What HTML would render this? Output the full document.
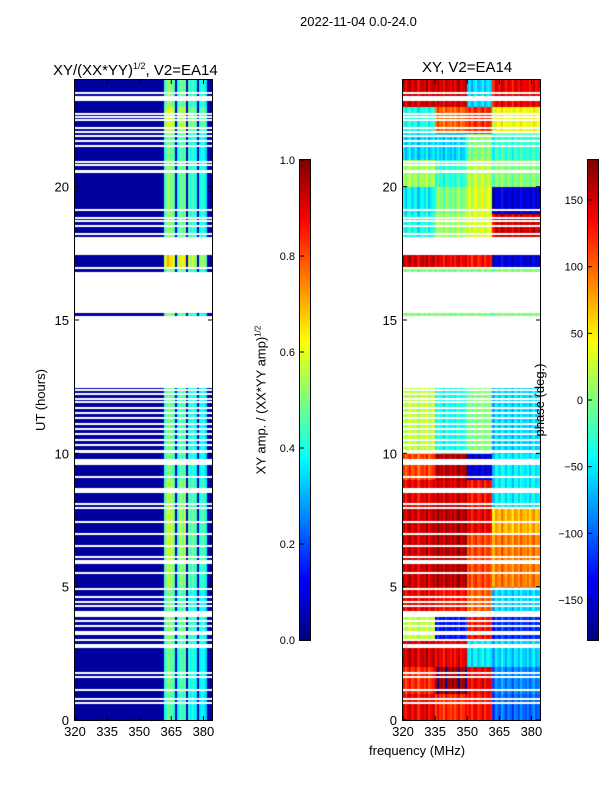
<!DOCTYPE html>
<html><head><meta charset="utf-8">
<style>
body{margin:0;background:#fff;width:600px;height:800px;overflow:hidden;position:relative;font-family:"Liberation Sans",sans-serif;color:#000}
.t{position:absolute;white-space:nowrap;font-size:12px;line-height:12px}
canvas{position:absolute}
.ax{position:absolute;border:1px solid #000;box-sizing:border-box}
</style></head><body>
<div class="t" style="left:300px;top:16px;font-size:13px">2022-11-04 0.0-24.0</div>
<div class="t" style="left:53px;top:58px;font-size:15px;line-height:16px">XY/(XX*YY)<sup style="font-size:9px">1/2</sup>, V2=EA14</div>
<div class="t" style="left:422px;top:60px;font-size:15px;line-height:16px">XY, V2=EA14</div>
<canvas id="c1" width="137" height="640" style="left:75px;top:80px"></canvas>
<canvas id="c2" width="137" height="640" style="left:403px;top:80px"></canvas>
<div class="ax" style="left:74px;top:79px;width:139px;height:642px"></div>
<div class="ax" style="left:402px;top:79px;width:139px;height:642px"></div>
<canvas id="cb1" width="10" height="480" style="left:300px;top:160px;outline:1px solid #000"></canvas>
<canvas id="cb2" width="10" height="480" style="left:588px;top:160px;outline:1px solid #000"></canvas>
<svg id="ov" width="600" height="800" style="position:absolute;left:0;top:0"></svg>
<div class="t" style="left:41px;top:400px;transform:translate(-50%,-50%) rotate(-90deg);font-size:13px">UT (hours)</div>
<div class="t" style="left:369px;top:745px;font-size:13px">frequency (MHz)</div>
<div class="t" style="left:260px;top:400px;transform:translate(-50%,-50%) rotate(-90deg);font-size:13px">XY amp. / (XX*YY amp)<sup style="font-size:8px">1/2</sup></div>
<div class="t" style="left:540px;top:400px;transform:translate(-50%,-50%) rotate(-90deg);font-size:13px">phase (deg.)</div>
<script>
// ---- data ----
const freqMin = 320, freqMax = 384, hourMin = 0, hourMax = 24;
const xTicks = [320, 335, 350, 365, 380];
const yTicks = [0, 5, 10, 15, 20];
const cb1Ticks = [0.0, 0.2, 0.4, 0.6, 0.8, 1.0];
const cb2Ticks = [-150, -100, -50, 0, 50, 100, 150];
// amplitude per 1-MHz channel (320..383)
const ampProfile = [0.03,0.03,0.03,0.03,0.03,0.03,0.03,0.03,0.03,0.03,0.03,0.03,0.03,0.03,0.03,0.03,
 0.03,0.03,0.03,0.03,0.03,0.03,0.03,0.03,0.03,0.03,0.03,0.03,0.03,0.03,0.03,0.03,
 0.03,0.03,0.03,0.03,0.03,0.03,0.03,0.03,0.04,0.05,0.45,0.55,0.5,0.5,0.45,0.06,
 0.4,0.5,0.45,0.5,0.06,0.45,0.4,0.45,0.4,0.06,0.38,0.42,0.4,0.35,0.05,0.04];
// brightness gain per hour
const ampGain = [0.9,0.95,0.95,1.0,0.95,1.05,1.1,1.1,1.05,0.95,0.95,0.95,0.95,1,1,1.0,1,1.3,1.0,1.0,1.0,0.95,1.15,1.0];
// phase (deg) per hour in 4 frequency bands
const phaseBand1 = [140,120,150,20,140,150,150,150,140,110,20,20,20,0,0,0,0,150,-40,-50,10,-60,-40,150];
const phaseBand2 = [120,170,140,-130,130,160,160,160,150,160,-40,-40,-40,0,0,0,0,140,10,0,-30,-60,100,150];
const phaseBand3 = [130,140,-50,130,100,110,110,140,130,-150,0,0,0,0,0,0,0,130,30,30,20,0,120,-60];
const phaseBand4 = [-100,-90,-60,-120,-60,90,90,70,-50,-50,-60,-60,-60,0,0,0,0,-150,150,-150,0,-30,40,140];
const bandEdges = [335, 350, 362];
const phaseChanOffset = [10,-15,5,20,-10,0,15,-20,5,10,-5,25,-15,0,10,-10,20,-5,5,-20,15,0,-10,10,
 -15,5,20,-10,0,15,-5,10,-20,5,15,-10,0,20,-15,5,10,-5,-20,15,0,-10,25,5,-15,10,0,-20,15,5,-10,20,0,-5,10,-15,5,20,-10,0];
// time gaps (no data), hours
const gaps = [[23.5,23.55],[23.2,23.4],[22.7,22.75],[22.6,22.65],[22.5,22.55],[22.0,22.07],[22.15,22.22],[21.9,21.95],
 [21.7,21.75],[21.5,21.55],[20.9,20.95],[20.8,20.85],[20.5,20.62],[19.1,19.15],[18.8,18.85],[18.7,18.75],[18.5,18.55],
 [18.2,18.25],[17.45,18.1],[16.9,17.0],[12.45,15.15],[15.25,16.8],[12.4,12.43],[12.25,12.28],[12.05,12.08],
 [11.9,11.95],[11.7,11.75],[11.5,11.55],[11.3,11.35],[11.1,11.15],[10.9,10.95],[10.7,10.75],[10.5,10.55],[10.3,10.35],
 [10.0,10.12],[9.55,9.8],[9.1,9.15],[8.5,8.7],[8.1,8.15],[7.95,8.0],[7.4,7.45],[6.95,7.0],[6.5,6.55],[6.1,6.15],
 [5.95,6.0],[5.88,5.92],[5.5,5.55],[4.9,4.95],[4.6,4.65],[4.4,4.45],[4.3,4.33],[3.85,4.1],[3.7,3.75],[3.5,3.55],
 [3.2,3.35],[3.0,3.05],[2.7,2.85],[1.75,1.8],[1.6,1.65],[1.1,1.15],[0.8,0.84],[0.65,0.69]];

// ---- helpers ----
function jet(v){v=Math.max(0,Math.min(1,v));const c=x=>Math.round(255*Math.max(0,Math.min(1,x)));
 return `rgb(${c(1.5-Math.abs(4*v-3))},${c(1.5-Math.abs(4*v-2))},${c(1.5-Math.abs(4*v-1))})`;}
const W=137,H=640;
const xs=f=>(f-freqMin)/(freqMax-freqMin)*W;
const ys=h=>H-(h-hourMin)/(hourMax-hourMin)*H;
function phaseAt(h,f,c){const hi=Math.min(23,Math.floor(h));
 const b=f<bandEdges[0]?phaseBand1:f<bandEdges[1]?phaseBand2:f<bandEdges[2]?phaseBand3:phaseBand4;
 let p=b[hi]+phaseChanOffset[c]; if(p>180)p-=360; if(p<-180)p+=360; return p;}
function draw(id,valFn){const ctx=document.getElementById(id).getContext('2d');
 for(let hi=0;hi<24;hi++){for(let c=0;c<64;c++){const f=freqMin+c;
   ctx.fillStyle=jet(valFn(hi+0.5,f,c,hi));
   const x0=Math.floor(xs(f)),x1=Math.ceil(xs(f+1)),y0=Math.floor(ys(hi+1)),y1=Math.ceil(ys(hi));
   ctx.fillRect(x0,y0,x1-x0,y1-y0);}}
 ctx.fillStyle='#fff';
 for(const g of gaps){const y0=Math.round(ys(g[1])),y1=Math.round(ys(g[0]));ctx.fillRect(0,y0,W,Math.max(2,y1-y0));}}
draw('c1',(h,f,c,hi)=>ampProfile[c]>0.1?ampProfile[c]*ampGain[hi]:ampProfile[c]);
draw('c2',(h,f,c)=>(phaseAt(h,f,c)+180)/360);
// colorbars
for(const id of ['cb1','cb2']){const ctx=document.getElementById(id).getContext('2d');
 for(let i=0;i<480;i++){ctx.fillStyle=jet(1-i/479);ctx.fillRect(0,i,10,1);}}
// axes ticks & labels
const ov=document.getElementById('ov');const NS='http://www.w3.org/2000/svg';
function el(tag,attrs,name,text){const e=document.createElementNS(NS,tag);for(const k in attrs)e.setAttribute(k,attrs[k]);
 
 
 if(text!==undefined)e.textContent=text;ov.appendChild(e);return e;}
for(const ox of [75,403]){
 for(const t of xTicks){const x=ox+xs(t);
  el('line',{x1:x,x2:x,y1:720,y2:716,stroke:'#000'},'x-tick');
  el('line',{x1:x,x2:x,y1:80,y2:84,stroke:'#000'},'x-tick-top');
  el('text',{x:x,y:736,'text-anchor':'middle','font-size':13,'font-family':'Liberation Sans'},'x-tick-label',String(t));}
 for(const t of yTicks){const y=80+ys(t);
  el('line',{x1:ox,x2:ox+4,y1:y,y2:y,stroke:'#000'},'y-tick');
  el('line',{x1:ox+137,x2:ox+133,y1:y,y2:y,stroke:'#000'},'y-tick-right');
  el('text',{x:ox-6,y:y+5,'text-anchor':'end','font-size':13,'font-family':'Liberation Sans'},'y-tick-label',String(t));}
}
for(const t of cb1Ticks){const y=640-t*480;
 el('line',{x1:300,x2:304,y1:y,y2:y,stroke:'#000'},'colorbar1-tick');
 el('text',{x:295,y:y+4,'text-anchor':'end','font-size':11,'font-family':'Liberation Sans'},'colorbar1-tick-label',t.toFixed(1));}
for(const t of cb2Ticks){const y=640-(t+180)/360*480;
 el('line',{x1:588,x2:592,y1:y,y2:y,stroke:'#000'},'colorbar2-tick');
 el('text',{x:583,y:y+4,'text-anchor':'end','font-size':11,'font-family':'Liberation Sans'},'colorbar2-tick-label',t<0?'\u2212'+(-t):String(t));}
</script>
</body></html>
